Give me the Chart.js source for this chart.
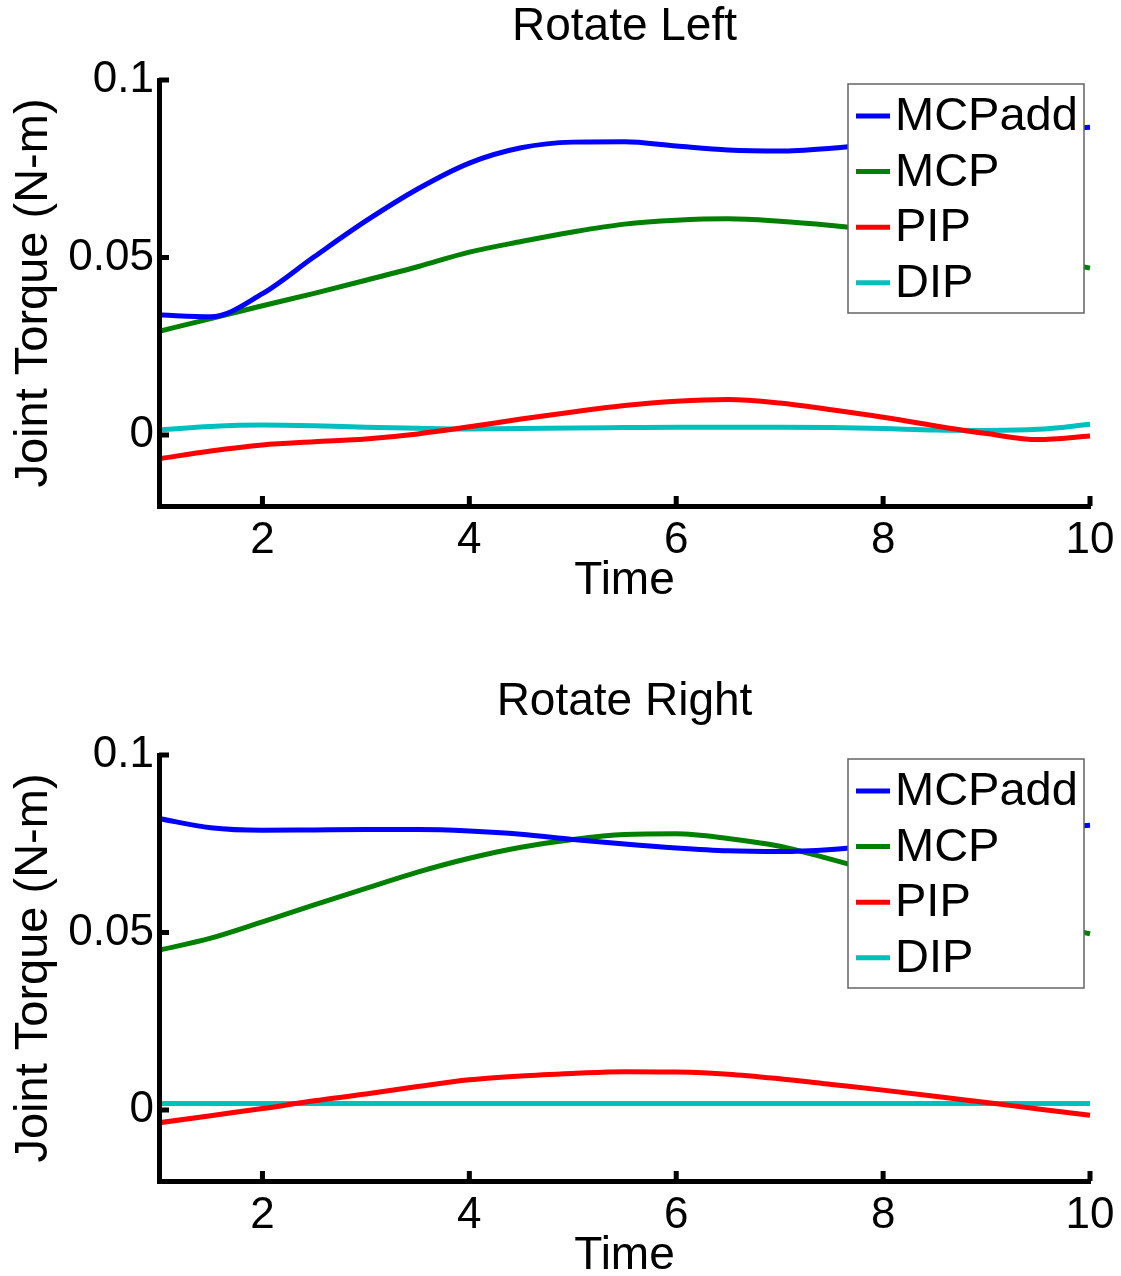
<!DOCTYPE html>
<html>
<head>
<meta charset="utf-8">
<script src="https://cdn.jsdelivr.net/npm/chart.js@4/dist/chart.umd.min.js"></script>
<style>
  html, body { margin: 0; padding: 0; background: #ffffff; overflow: hidden; }
  .panel { position: relative; width: 1121px; height: 675px; }
  canvas { display: block; }
</style>
</head>
<body>
<div class="panel"><canvas id="c1" width="1121" height="675"></canvas></div>
<div class="panel"><canvas id="c2" width="1121" height="675"></canvas></div>
<script>
// ---------------- data ----------------
const time = [1, 1.5, 2, 2.5, 3, 3.5, 4, 4.5, 5, 5.5, 6, 6.5, 7, 7.5, 8, 8.5, 9, 9.5, 10];
const seriesNames = ['MCPadd', 'MCP', 'PIP', 'DIP'];
const panelTitles = ['Rotate Left', 'Rotate Right'];
const xTickValues = [2, 4, 6, 8, 10];
const yTickValues = [0, 0.05, 0.1];
const yTickLabels = ['0', '0.05', '0.1'];
const xAxisTitle = 'Time';
const yAxisTitle = 'Joint Torque (N-m)';

// Rotate Left
const leftMCPadd = [0.0338, 0.0333, 0.0398, 0.0502, 0.0603, 0.0693, 0.0766, 0.0809, 0.0825, 0.0826, 0.0814, 0.0803, 0.0800, 0.0808, 0.0822, 0.0836, 0.0848, 0.0858, 0.0867];
const leftMCP    = [0.0292, 0.0328, 0.0364, 0.0399, 0.0436, 0.0474, 0.0515, 0.0545, 0.0572, 0.0594, 0.0605, 0.0609, 0.0602, 0.0590, 0.0575, 0.0555, 0.0530, 0.0500, 0.0470];
const leftPIP    = [-0.0067, -0.0045, -0.0028, -0.0019, -0.0011, 0.0003, 0.0023, 0.0045, 0.0065, 0.0083, 0.0095, 0.0100, 0.0090, 0.0071, 0.0050, 0.0026, 0.0004, -0.0013, -0.0003];
const leftDIP    = [0.0014, 0.0024, 0.0028, 0.0026, 0.0022, 0.0019, 0.0017, 0.0018, 0.0020, 0.0021, 0.0022, 0.0022, 0.0022, 0.0021, 0.0018, 0.0014, 0.0013, 0.0016, 0.0030];

// Rotate Right
const rightMCPadd = [0.0821, 0.0795, 0.0788, 0.0789, 0.0790, 0.0790, 0.0786, 0.0777, 0.0762, 0.0749, 0.0738, 0.0730, 0.0728, 0.0734, 0.0748, 0.0763, 0.0778, 0.0792, 0.0802];
const rightMCP    = [0.0450, 0.0484, 0.0530, 0.0578, 0.0624, 0.0670, 0.0709, 0.0740, 0.0762, 0.0776, 0.0778, 0.0765, 0.0743, 0.0706, 0.0665, 0.0620, 0.0575, 0.0533, 0.0496];
const rightPIP    = [-0.0036, -0.0016, 0.0004, 0.0026, 0.0045, 0.0066, 0.0085, 0.0096, 0.0103, 0.0108, 0.0107, 0.0101, 0.0088, 0.0072, 0.0056, 0.0039, 0.0021, 0.0003, -0.0015];
const rightDIP    = [0.0018, 0.0018, 0.0018, 0.0018, 0.0018, 0.0018, 0.0018, 0.0018, 0.0018, 0.0018, 0.0018, 0.0018, 0.0018, 0.0018, 0.0018, 0.0018, 0.0018, 0.0018, 0.0018];

// ---------------- styling ----------------
const FONT = "'Liberation Sans', Arial, Helvetica, sans-serif";
const lineColors = { MCPadd: '#0000ff', MCP: '#008000', PIP: '#ff0000', DIP: '#00bfbf' };
Chart.defaults.font.family = FONT;
Chart.defaults.color = '#000000';

// inward tick marks (MATLAB style), drawn through the chart's scales
const inwardTicks = {
  id: 'inwardTicks',
  afterDatasetsDraw(chart) {
    const { ctx, chartArea: a, scales: { x, y } } = chart;
    ctx.save();
    ctx.strokeStyle = '#000000';
    ctx.lineWidth = 5;
    ctx.lineCap = 'butt';
    xTickValues.forEach(v => {
      const px = x.getPixelForValue(v);
      ctx.beginPath(); ctx.moveTo(px, a.bottom); ctx.lineTo(px, a.bottom - 10); ctx.stroke();
    });
    yTickValues.forEach(v => {
      const py = y.getPixelForValue(v);
      ctx.beginPath(); ctx.moveTo(a.left, py); ctx.lineTo(a.left + 10, py); ctx.stroke();
    });
    ctx.restore();
  }
};

// boxed legend inside the axes (north-east), opaque
const boxLegend = {
  id: 'boxLegend',
  afterDatasetsDraw(chart) {
    const { ctx, chartArea: a } = chart;
    const bw = 236, bh = 229;
    const bx = a.right - 242, by = a.top + 4;
    ctx.save();
    ctx.fillStyle = '#ffffff';
    ctx.fillRect(bx, by, bw, bh);
    ctx.strokeStyle = '#646464';
    ctx.lineWidth = 1.5;
    ctx.strokeRect(bx, by, bw, bh);
    ctx.font = '47px ' + FONT;
    ctx.textBaseline = 'middle';
    ctx.textAlign = 'left';
    chart.data.datasets.forEach((ds, i) => {
      const cy = by + 32 + i * 55.6;
      ctx.strokeStyle = ds.borderColor;
      ctx.lineWidth = 5;
      ctx.beginPath(); ctx.moveTo(bx + 8, cy); ctx.lineTo(bx + 42, cy); ctx.stroke();
      ctx.fillStyle = '#000000';
      ctx.fillText(ds.label, bx + 47, cy + 1);
    });
    ctx.restore();
  }
};

function makeChart(canvasId, title, values) {
  const datasets = seriesNames.map((name, i) => ({
    label: name,
    data: time.map((t, j) => ({ x: t, y: values[i][j] })),
    borderColor: lineColors[name],
    backgroundColor: lineColors[name],
    borderWidth: 5,
    pointRadius: 0,
    fill: false,
    cubicInterpolationMode: 'monotone',
    clip: { left: -3, right: 3, top: 3, bottom: -3 }
  }));
  return new Chart(document.getElementById(canvasId), {
    type: 'line',
    data: { datasets },
    plugins: [inwardTicks, boxLegend],
    options: {
      responsive: false,
      animation: false,
      devicePixelRatio: 1,
      layout: { padding: { left: 0, right: 0, top: 0, bottom: 0 } },
      plugins: {
        legend: { display: false },
        tooltip: { enabled: false },
        title: {
          display: true,
          text: title,
          fullSize: false,
          color: '#000000',
          font: { size: 46, weight: 'normal', lineHeight: 1.2 },
          padding: { top: 0, bottom: 24.8 }
        }
      },
      scales: {
        x: {
          type: 'linear',
          position: 'bottom',
          min: 1,
          max: 10,
          grid: { display: false, drawTicks: false },
          border: { display: true, color: '#000000', width: 5 },
          afterBuildTicks: s => { s.ticks = xTickValues.map(v => ({ value: v })); },
          afterFit: s => { s.height = 169; s.paddingRight = 31; s.paddingLeft = 0; },
          ticks: { color: '#000000', font: { size: 44, lineHeight: 1.2 }, padding: 8, maxRotation: 0, autoSkip: false,
                   callback: v => String(v) },
          title: { display: true, text: xAxisTitle, color: '#000000',
                   font: { size: 46, lineHeight: 1.2 }, padding: { top: 0, bottom: 66 } }
        },
        y: {
          type: 'linear',
          position: 'left',
          min: -0.02,
          max: 0.1,
          grid: { display: false, drawTicks: false },
          border: { display: true, color: '#000000', width: 5 },
          afterBuildTicks: s => { s.ticks = yTickValues.map(v => ({ value: v })); },
          afterFit: s => { s.width = 159; },
          ticks: { color: '#000000', font: { size: 44, lineHeight: 1.2 }, padding: 5, autoSkip: false,
                   callback: v => { const k = yTickValues.indexOf(v); return k >= 0 ? yTickLabels[k] : ''; } },
          title: { display: true, text: yAxisTitle, color: '#000000',
                   font: { size: 47, lineHeight: 1.2 }, padding: { top: 6, bottom: 0 } }
        }
      }
    }
  });
}

makeChart('c1', panelTitles[0], [leftMCPadd, leftMCP, leftPIP, leftDIP]);
makeChart('c2', panelTitles[1], [rightMCPadd, rightMCP, rightPIP, rightDIP]);
</script>
</body>
</html>
